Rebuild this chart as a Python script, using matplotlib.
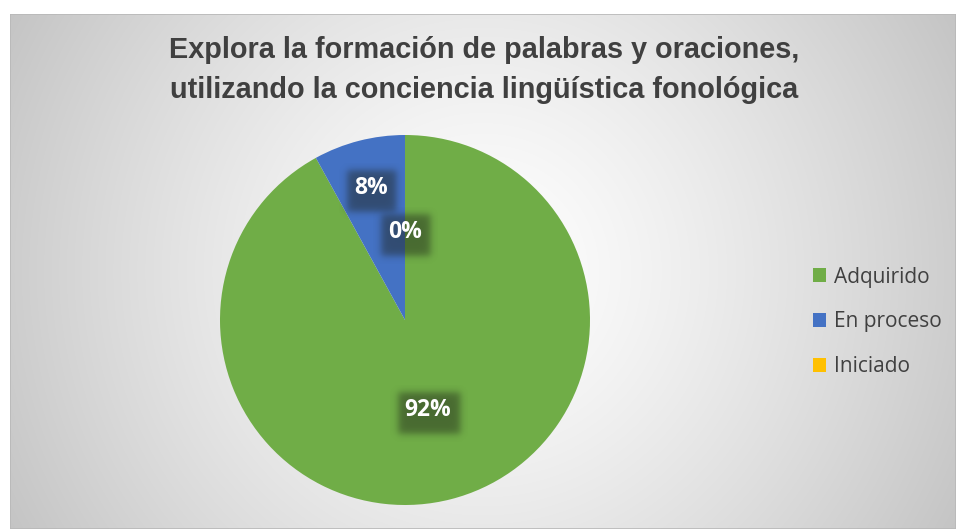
import numpy as np
import matplotlib.pyplot as plt
from matplotlib.patches import Rectangle

categories = ['Adquirido', 'En proceso', 'Iniciado']
values = [92, 8, 0]
labels = ['92%', '8%', '0%']
colors = ['#70AD47', '#4472C4', '#FFC000']
title = 'Explora la formación de palabras y oraciones,\nutilizando la conciencia lingüística fonológica'

W, H = 956, 529
fig = plt.figure(figsize=(W / 100, H / 100), dpi=100)
fig.patch.set_facecolor('white')

# panel with a radial grey gradient
px0, py0, px1, py1 = 10, 14, 956, 529
bg = fig.add_axes([px0 / W, 1 - py1 / H, (px1 - px0) / W, (py1 - py0) / H])
bg.set_axis_off()
nx, ny = px1 - px0, py1 - py0
xx, yy = np.meshgrid(np.linspace(-1, 1, nx), np.linspace(-1, 1, ny))
d = np.sqrt((xx * nx / 2) ** 2 + (yy * ny / 2) ** 2)
d = d / d.max()
shade = 1.0 - 0.23 * np.clip(d, 0, 1) ** 1.3
img = np.dstack([shade, shade, shade])
bg.imshow(img, extent=[0, 1, 0, 1], aspect='auto', origin='upper')
bg.add_patch(Rectangle((0, 0), 1, 1, transform=bg.transAxes, fill=False,
                       edgecolor='#b8b8b8', linewidth=1.2))
bg.set_xlim(0, 1)
bg.set_ylim(0, 1)

fig.text(484 / W, 1 - 70 / H, title, ha='center', va='center',
         fontsize=20.8, fontweight='bold', color='#404040',
         family='Liberation Sans', linespacing=1.55)

# pie
cxp, cyp, r = 405, 320, 185
ax = fig.add_axes([(cxp - r) / W, 1 - (cyp + r) / H, 2 * r / W, 2 * r / H])
wedges, _ = ax.pie(values, colors=colors, startangle=90, counterclock=False,
                   radius=1.0, wedgeprops=dict(linewidth=0))

total = float(sum(values))
dist = [0.5, 0.735, 0.475]
start = 0.0
texts = []
for v, lab, f in zip(values, labels, dist):
    mid = (start + v / 2) / total * 2 * np.pi
    start += v
    x, y = f * np.sin(mid), f * np.cos(mid)
    t = ax.text(x, y, lab, ha='center', va='center', fontsize=16.5,
                fontweight='bold', color='white', family='Open Sans', zorder=5)
    texts.append(t)

ax.set_xlim(-1, 1)
ax.set_ylim(-1, 1)
ax.set_aspect('auto')

# soft dark shadow box under each label
fig.canvas.draw()
renderer = fig.canvas.get_renderer()
inv = ax.transData.inverted()


def soft(u, a, b, s):
    return 1 / (1 + np.exp(-(u - a) / s)) * 1 / (1 + np.exp((u - b) / s))


for t in texts:
    bb = t.get_window_extent(renderer)
    x0, x1 = bb.x0 - 7, bb.x1 + 9
    y0, y1 = bb.y0 - 12, bb.y1 + 6
    m = 8
    gx = np.arange(x0 - m, x1 + m)
    gy = np.arange(y0 - m, y1 + m)
    ax_ = soft(gx, x0, x1, 2.2)
    ay_ = soft(gy, y0, y1, 2.2)
    alpha = 0.48 * np.outer(ay_[::-1], ax_)
    rgba = np.zeros(alpha.shape + (4,))
    rgba[..., 0] = 0.12
    rgba[..., 1] = 0.14
    rgba[..., 2] = 0.10
    rgba[..., 3] = alpha
    (dx0, dy0) = inv.transform((gx[0], gy[0]))
    (dx1, dy1) = inv.transform((gx[-1], gy[-1]))
    ax.imshow(rgba, extent=[dx0, dx1, dy0, dy1], zorder=4, aspect='auto',
              interpolation='bilinear')

ax.set_xlim(-1, 1)
ax.set_ylim(-1, 1)
ax.set_aspect('auto')
ax.set_axis_off()

leg = fig.legend(wedges, categories, loc='center left',
                 bbox_to_anchor=(794 / W, 1 - 322 / H), frameon=False,
                 prop=dict(family='Open Sans', size=15), labelcolor='#404040',
                 handlelength=0.65, handleheight=0.65, handletextpad=0.35,
                 labelspacing=1.15)

fig.savefig('out.png', dpi=100)
